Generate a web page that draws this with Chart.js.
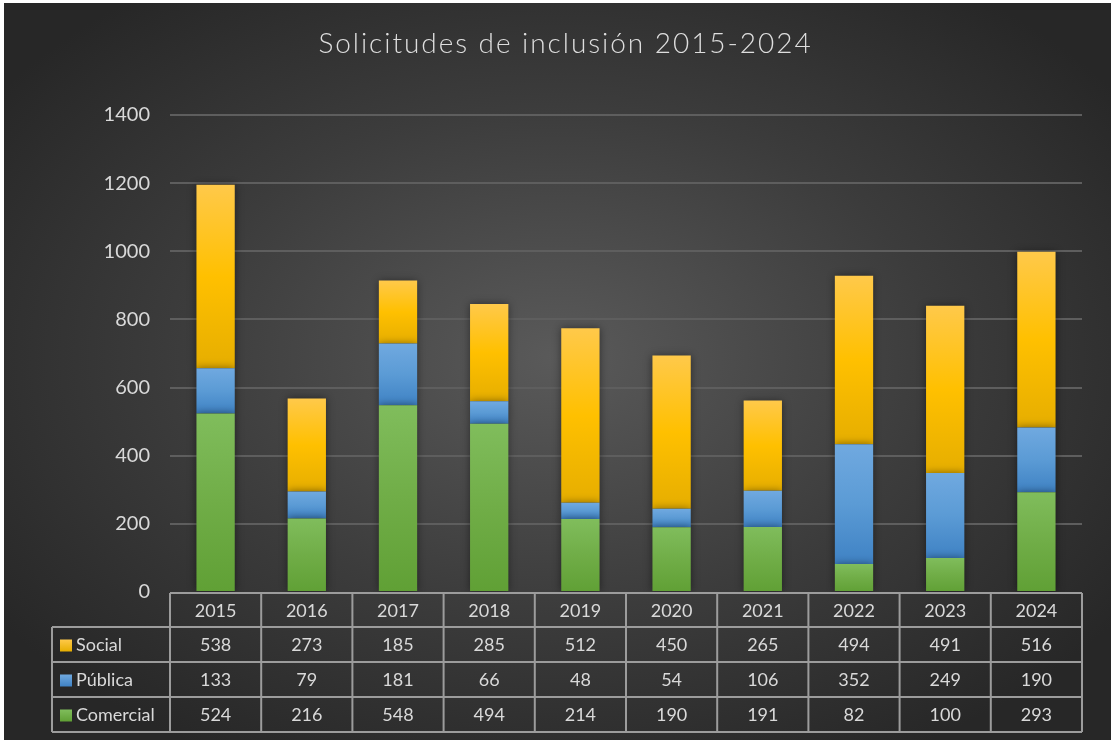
<!DOCTYPE html>
<html>
<head>
<meta charset="utf-8">
<script src="https://cdn.jsdelivr.net/npm/chart.js@4.4.1/dist/chart.umd.min.js"></script>
<style>
  html, body { margin: 0; padding: 0; background: #ffffff; }
  #wrap {
    position: absolute; left: 4px; top: 3px; width: 1107px; height: 737px;
    background: radial-gradient(ellipse 62% 62% at 50% 48%, #5a5a5a 0%, #3c3c3c 55%, #272727 100%);
    overflow: hidden;
  }
  #title {
    position: absolute; left: 8px; top: 22px; width: 100%; text-align: center;
    font-family: Lato, "Liberation Sans", sans-serif; font-size: 28px; font-weight: 300;
    letter-spacing: 1.95px; color: #dedede;
  }
  canvas { position: absolute; left: 0; top: 0; }
</style>
</head>
<body>
<div id="wrap">
  <canvas id="myChart" width="1107" height="737"></canvas>
  <div id="title">Solicitudes de inclusión 2015-2024</div>
</div>
<script>
const years = ['2015', '2016', '2017', '2018', '2019', '2020', '2021', '2022', '2023', '2024']
const social = [538, 273, 185, 285, 512, 450, 265, 494, 491, 516]
const publica = [133, 79, 181, 66, 48, 54, 106, 352, 249, 190]
const comercial = [524, 216, 548, 494, 214, 190, 191, 82, 100, 293]
const yTicks = [0, 200, 400, 600, 800, 1000, 1200, 1400]

const series = [
  { label: 'Comercial', data: comercial, colors: ['#80bd5c', '#70ad47', '#60a035'] },
  { label: 'Pública', data: publica, colors: ['#70a9e0', '#5b9bd5', '#3f82c4'] },
  { label: 'Social', data: social, colors: ['#ffc94a', '#ffc000', '#e6ae00'] },
]

function barGradient(ctx, s) {
  const chart = ctx.chart
  if (ctx.type !== 'data' || !chart.chartArea) return s.colors[1]
  const dsIndex = ctx.datasetIndex
  const i = ctx.dataIndex
  let base = 0
  for (let k = 0; k < dsIndex; k++) base += series[k].data[i]
  const yScale = chart.scales.y
  const top = yScale.getPixelForValue(base + s.data[i])
  const bottom = yScale.getPixelForValue(base)
  const g = chart.ctx.createLinearGradient(0, top, 0, bottom)
  g.addColorStop(0, s.colors[0])
  g.addColorStop(0.5, s.colors[1])
  g.addColorStop(1, s.colors[2])
  return g
}

const textColor = '#d9d9d9'
const lineColor = '#9c9c9c'
const font = 'Lato, "Liberation Sans", sans-serif'

// bar shadow like the spreadsheet look
const shadowPlugin = {
  id: 'shadow',
  beforeDatasetsDraw(chart) {
    const c = chart.ctx
    c.save()
    c.shadowColor = 'rgba(0,0,0,0.45)'
    c.shadowBlur = 8
  },
  afterDatasetsDraw(chart) {
    chart.ctx.restore()
  }
}

// data table under the plot
const tablePlugin = {
  id: 'dataTable',
  afterDraw(chart) {
    const c = chart.ctx
    const x = chart.scales.x
    const area = chart.chartArea
    const left = area.left, right = area.right
    const headH = 34
    const rowH = 35
    const top = area.bottom + 1
    const labelLeft = 48
    const colW = (right - left) / years.length
    const rows = series.slice().reverse()
    const bottom = top + headH + rowH * rows.length

    c.save()
    c.strokeStyle = lineColor
    c.lineWidth = 2
    c.beginPath()
    c.moveTo(left, top); c.lineTo(right, top)
    for (let r = 0; r <= rows.length; r++) {
      const y = top + headH + rowH * r
      c.moveTo(labelLeft, y); c.lineTo(right, y)
    }
    for (let k = 0; k <= years.length; k++) {
      const xx = left + colW * k
      c.moveTo(xx, top); c.lineTo(xx, bottom)
    }
    c.moveTo(labelLeft, top + headH); c.lineTo(labelLeft, bottom)
    c.stroke()

    c.fillStyle = textColor
    c.font = '18px ' + font
    c.textAlign = 'center'
    c.textBaseline = 'middle'
    years.forEach((yr, i) => {
      c.fillText(yr, x.getPixelForValue(i), top + headH / 2 + 1)
    })
    rows.forEach((s, r) => {
      const cy = top + headH + rowH * r + rowH / 2 + 1
      c.textAlign = 'center'
      s.data.forEach((v, i) => {
        c.fillText(String(v), x.getPixelForValue(i), cy)
      })
      // legend key
      const g = c.createLinearGradient(0, cy - 6, 0, cy + 6)
      g.addColorStop(0, s.colors[0]); g.addColorStop(1, s.colors[2])
      c.fillStyle = g
      c.fillRect(labelLeft + 8, cy - 6, 12, 12)
      c.fillStyle = textColor
      c.textAlign = 'left'
      c.fillText(s.label, labelLeft + 24, cy)
    })
    c.restore()
  }
}

const canvas = document.getElementById('myChart').getContext('2d')
const myChart = new Chart(canvas, {
  type: 'bar',
  data: {
    labels: years,
    datasets: series.map(s => ({
      label: s.label,
      data: s.data,
      backgroundColor: (ctx) => barGradient(ctx, s),
      borderWidth: 0,
      barPercentage: 0.42,
      categoryPercentage: 1,
    }))
  },
  options: {
    responsive: false,
    animation: false,
    layout: { padding: { left: 0, right: 29, top: 112, bottom: 148 } },
    plugins: {
      legend: { display: false },
      tooltip: { enabled: false },
      title: { display: false },
    },
    scales: {
      x: {
        stacked: true,
        display: false,
      },
      y: {
        stacked: true,
        min: 0,
        max: 1400,
        afterBuildTicks(scale) { scale.ticks = yTicks.map(v => ({ value: v })) },
        afterFit(scale) { scale.width = 166 },
        border: { display: false },
        grid: {
          color: (ctx) => ctx.tick && ctx.tick.value === 0 ? 'rgba(0,0,0,0)' : '#5e5e5e',
          lineWidth: 2,
          drawTicks: false,
        },
        ticks: {
          color: textColor,
          font: { family: font, size: 20 },
          padding: 20,
          callback: (v) => String(v),
        }
      }
    }
  },
  plugins: [shadowPlugin, tablePlugin]
})
</script>
</body>
</html>
